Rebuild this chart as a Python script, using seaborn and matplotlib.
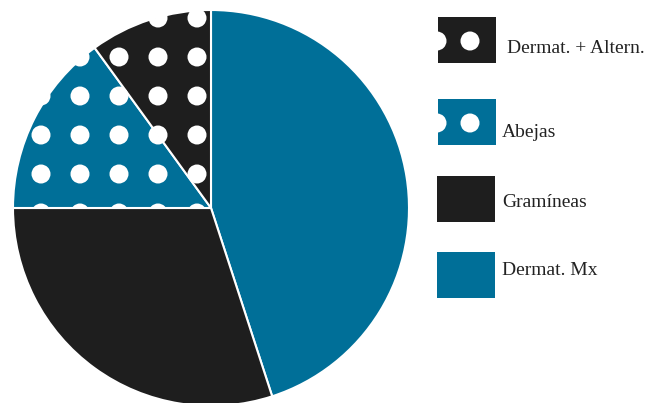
import matplotlib
matplotlib.use("Agg")
import matplotlib.pyplot as plt
from matplotlib.patches import Circle, Rectangle
import seaborn as sns

# data
labels = ["Dermat. Mx", "Gramíneas", "Abejas", "Dermat. + Altern."]
shares = [45, 30, 15, 10]
dotted = [False, False, True, True]

BLUE = "#006f98"
BLACK = "#1e1e1e"

sns.set_theme(style="white")
plt.rcParams["font.family"] = ["Liberation Serif", "DejaVu Serif"]
colors = sns.color_palette([BLUE, BLACK, BLUE, BLACK])

fig = plt.figure(figsize=(6.57, 4.03), dpi=100)

# pie
ax = fig.add_axes([13 / 657, -3 / 403, 396 / 657, 396 / 403])
wedges, _ = ax.pie(shares, colors=colors, startangle=90, counterclock=False,
                   wedgeprops=dict(edgecolor="white", linewidth=1.5))
ax.set_xlim(-1, 1)
ax.set_ylim(-1, 1)
ax.set_aspect("equal")
ax.axis("off")

# white dot pattern on the dotted wedges
step = 39 / 198
rad = 9.5 / 198
for w, d in zip(wedges, dotted):
    if not d:
        continue
    for i in range(-6, 7):
        for j in range(-6, 7):
            c = Circle((-14 / 198 + i * step, -5 / 198 + j * step), rad,
                       facecolor="white", edgecolor="none")
            ax.add_patch(c)
            c.set_clip_path(w)

# legend drawn in pixel space: (box x, box y, text x, text baseline, slice)
lax = fig.add_axes([0, 0, 1, 1])
lax.set_xlim(0, 657)
lax.set_ylim(403, 0)
lax.axis("off")
rows = [(438, 17, 507, 53, 3), (438, 99, 502, 137, 2),
        (437, 176, 502, 207, 1), (437, 252, 502, 275, 0)]
for x0, y0, tx, ty, k in rows:
    r = Rectangle((x0, y0), 58, 46, facecolor=colors[k], edgecolor="none")
    lax.add_patch(r)
    if dotted[k]:
        for cx in (x0 - 1, x0 + 32):
            c = Circle((cx, y0 + 24), 9.5, facecolor="white", edgecolor="none")
            lax.add_patch(c)
            c.set_clip_path(r)
    lax.text(tx, ty, labels[k], fontsize=14, color="#222222",
             ha="left", va="baseline")

fig.savefig("out.png", dpi=100)
